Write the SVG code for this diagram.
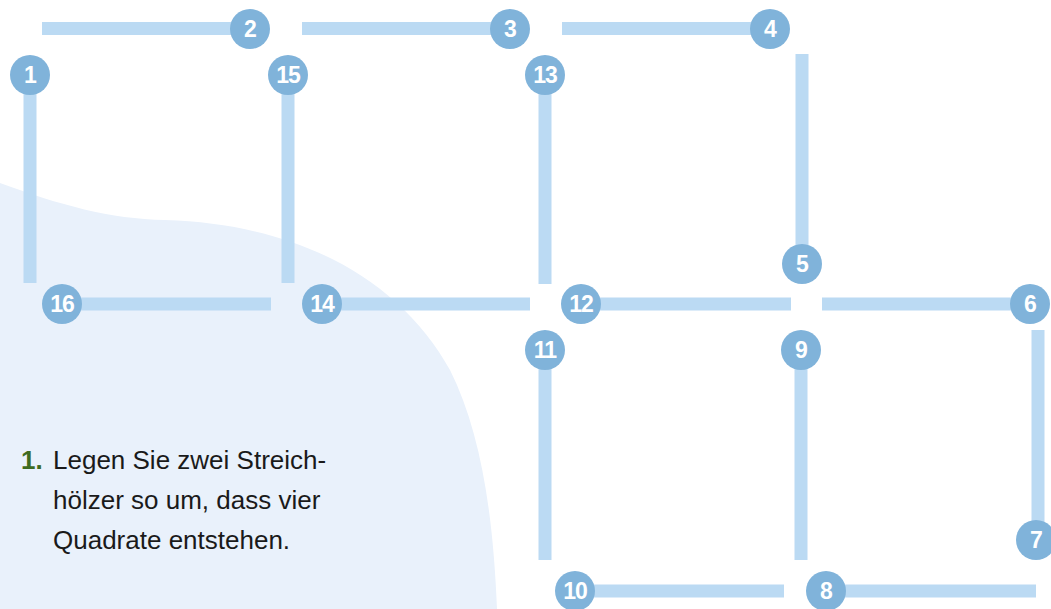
<svg xmlns="http://www.w3.org/2000/svg" width="1051" height="609" viewBox="0 0 1051 609">
<style>
.bg{fill:#E9F1FB}
.stick{stroke:#BBDAF3;stroke-width:13;fill:none}
.dot{fill:#80B3DA}
.num{fill:#fff;font-family:"Liberation Sans",Arial,sans-serif;font-weight:bold;font-size:23px;text-anchor:middle;letter-spacing:-1px}
.txt{fill:#1a1a1a;font-family:"Liberation Sans",Arial,sans-serif;font-size:26px}
.lead{fill:#3E6B1F;font-weight:bold}
</style>
<rect width="1051" height="609" fill="#fff"/>
<path class="bg" d="M0,183 C60,205 110,219 165,220 C300,224 400,280 450,370 C480,430 493,510 497,609 L0,609 Z"/>
<g id="connectors">
<line class="stick" x1="42" y1="28.5" x2="250" y2="28.5"/>
<line class="stick" x1="302" y1="28.5" x2="510" y2="28.5"/>
<line class="stick" x1="562" y1="28.5" x2="770" y2="28.5"/>
<line class="stick" x1="62" y1="304" x2="271" y2="304"/>
<line class="stick" x1="322" y1="304" x2="530" y2="304"/>
<line class="stick" x1="581" y1="304" x2="791" y2="304"/>
<line class="stick" x1="822" y1="304" x2="1030" y2="304"/>
<line class="stick" x1="575" y1="591" x2="784" y2="591"/>
<line class="stick" x1="826" y1="591" x2="1036" y2="591"/>
<line class="stick" x1="30" y1="75" x2="30" y2="283"/>
<line class="stick" x1="288" y1="75" x2="288" y2="283"/>
<line class="stick" x1="545" y1="75" x2="545" y2="284"/>
<line class="stick" x1="802" y1="54" x2="802" y2="263"/>
<line class="stick" x1="545" y1="350" x2="545" y2="560"/>
<line class="stick" x1="801" y1="350" x2="801" y2="560"/>
<line class="stick" x1="1038" y1="330" x2="1038" y2="540"/>
</g>
<g id="n1"><circle class="dot" cx="30" cy="75" r="20"/><text class="num" x="30" y="83">1</text></g>
<g id="n2"><circle class="dot" cx="250" cy="29" r="20"/><text class="num" x="250" y="37">2</text></g>
<g id="n3"><circle class="dot" cx="510" cy="29" r="20"/><text class="num" x="510" y="37">3</text></g>
<g id="n4"><circle class="dot" cx="770" cy="29" r="20"/><text class="num" x="770" y="37">4</text></g>
<g id="n5"><circle class="dot" cx="802" cy="264" r="20"/><text class="num" x="802" y="272">5</text></g>
<g id="n6"><circle class="dot" cx="1030" cy="304" r="20"/><text class="num" x="1030" y="312">6</text></g>
<g id="n7"><circle class="dot" cx="1036" cy="540" r="20"/><text class="num" x="1036" y="548">7</text></g>
<g id="n8"><circle class="dot" cx="826" cy="591" r="20"/><text class="num" x="826" y="599">8</text></g>
<g id="n9"><circle class="dot" cx="801" cy="350" r="20"/><text class="num" x="801" y="358">9</text></g>
<g id="n10"><circle class="dot" cx="575" cy="591" r="20"/><text class="num" x="575" y="599">10</text></g>
<g id="n11"><circle class="dot" cx="545" cy="350" r="20"/><text class="num" x="545" y="358">11</text></g>
<g id="n12"><circle class="dot" cx="581" cy="304" r="20"/><text class="num" x="581" y="312">12</text></g>
<g id="n13"><circle class="dot" cx="545" cy="75" r="20"/><text class="num" x="545" y="83">13</text></g>
<g id="n14"><circle class="dot" cx="322" cy="304" r="20"/><text class="num" x="322" y="312">14</text></g>
<g id="n15"><circle class="dot" cx="288" cy="75" r="20"/><text class="num" x="288" y="83">15</text></g>
<g id="n16"><circle class="dot" cx="62" cy="304" r="20"/><text class="num" x="62" y="312">16</text></g>
<g id="task">
<text class="txt lead" x="21" y="469">1.</text>
<text class="txt" x="53" y="469">Legen Sie zwei Streich-</text>
<text class="txt" x="53" y="509">hölzer so um, dass vier</text>
<text class="txt" x="53" y="549">Quadrate entstehen.</text>
</g>
</svg>
